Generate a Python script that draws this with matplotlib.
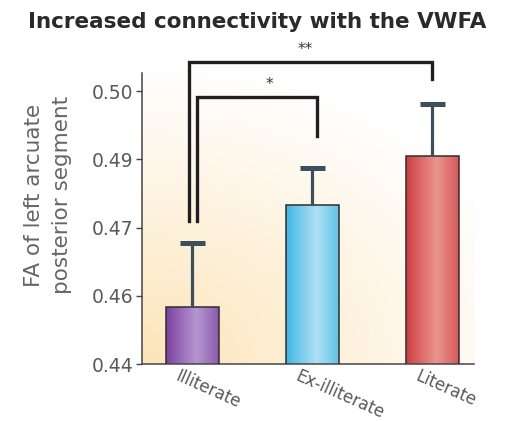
import numpy as np
import matplotlib
matplotlib.use("Agg")
import matplotlib.pyplot as plt
from matplotlib.colors import to_rgb
from matplotlib.transforms import ScaledTranslation

# --- data ---------------------------------------------------------------
groups = ["Illiterate", "Ex-illiterate", "Literate"]
fa_mean = [0.4525, 0.4749, 0.4857]
fa_sem = [0.0142, 0.0083, 0.0114]
ytick_values = [0.44, 0.455, 0.47, 0.485, 0.50]
ytick_labels = ["0.44", "0.46", "0.47", "0.49", "0.50"]
# bracket: (left group, right group, label)
comparisons = [(0, 1, "*"), (0, 2, "**")]

# --- style ----------------------------------------------------------------
bar_shades = {"Illiterate": ("#7a3d9e", "#b596d0"),
              "Ex-illiterate": ("#3cb6e2", "#aee0f4"),
              "Literate": ("#cf3b3f", "#ea958e")}
err_color = "#3b4f5c"
axis_color = "#454545"
text_gray = "#5a5a5a"

fig = plt.figure(figsize=(5.09, 4.21), dpi=100)
ax = fig.add_axes([141.5 / 509, 1 - 364 / 421, (474 - 141.5) / 509, (364 - 73) / 421])

x = np.arange(len(groups))
ax.set_xlim(-0.425, 2.346)
ax.set_ylim(0.44, 0.504)

# warm background wash fading toward the upper right
ny, nx = 200, 200
gx, gy = np.meshgrid(np.linspace(0, 1, nx), np.linspace(0, 1, ny))
d = np.sqrt((gx / 1.25) ** 2 + (gy / 1.05) ** 2)
w = np.clip(1 - d, 0, 1) ** 1.1
peach = np.array(to_rgb("#fde4b8"))
bg = (1 - w[..., None]) * 1.0 + w[..., None] * peach
ax.imshow(bg, extent=[0, 1, 0, 1], transform=ax.transAxes, origin="lower",
          aspect="auto", zorder=0, interpolation="bilinear")

# bars with a cylindrical shading
bars = ax.bar(x, fa_mean, width=0.44, bottom=0, facecolor="none",
              edgecolor="#2e2e2e", linewidth=1.1, zorder=3)
for bar, name in zip(bars, groups):
    dark, light = (np.array(to_rgb(c)) for c in bar_shades[name])
    t = np.linspace(0, 1, 100)
    prof = np.clip(1 - np.abs(t - 0.58) / 0.58, 0, 1) ** 0.9
    cols = dark[None, :] * (1 - prof[:, None]) + light[None, :] * prof[:, None]
    x0 = bar.get_x()
    x1 = x0 + bar.get_width()
    im = ax.imshow(cols[None, :, :], extent=[x0, x1, 0.44, bar.get_height()],
                   aspect="auto", zorder=2, interpolation="bilinear")
    im.set_clip_path(bar)

# upper error bars only
_, caps, _ = ax.errorbar(x, fa_mean, yerr=[np.zeros(len(x)), fa_sem], fmt="none",
                         ecolor=err_color, elinewidth=2.3, capsize=9,
                         capthick=3.6, zorder=4)
for cap in caps:
    if np.allclose(cap.get_ydata(), fa_mean):
        cap.set_visible(False)

# significance brackets
bracket_levels = {"*": 0.4987, "**": 0.5064}
left_offsets = {"*": 0.035, "**": -0.03}
right_offsets = {"*": 0.04, "**": 0.0}
right_ends = {"*": 0.4901, "**": 0.5026}
star_shift = {"*": 0.10, "**": -0.05}
leg_bottom = 0.4714
for i, j, lab in comparisons:
    yb = bracket_levels[lab]
    xl = x[i] + left_offsets[lab]
    xr = x[j] + right_offsets[lab]
    ax.plot([xl, xl, xr, xr], [leg_bottom, yb, yb, right_ends[lab]],
            color="#202020", lw=2.4, solid_joinstyle="miter", zorder=5,
            clip_on=False)
    ax.text((xl + xr) / 2 + star_shift[lab], yb + 0.0012, lab, ha="center",
            va="bottom", fontsize=11, color="#333333", clip_on=False)

# axes styling
for side in ("top", "right"):
    ax.spines[side].set_visible(False)
for side in ("left", "bottom"):
    ax.spines[side].set_color(axis_color)
    ax.spines[side].set_linewidth(1.1)
ax.set_yticks(ytick_values, ytick_labels)
ax.tick_params(axis="y", length=4, width=1.0, color=axis_color, pad=2,
               labelsize=13.5, labelcolor=text_gray)
ax.set_xticks(x, groups)
ax.tick_params(axis="x", length=0, pad=2, labelsize=12, labelcolor=text_gray)
shift = ScaledTranslation(-0.12, 0, fig.dpi_scale_trans)
for lbl in ax.get_xticklabels():
    lbl.set_rotation(-24)
    lbl.set_ha("left")
    lbl.set_va("top")
    lbl.set_rotation_mode("anchor")
    lbl.set_transform(lbl.get_transform() + shift)

fig.text(48 / 509, 1 - 195 / 421, "FA of left arcuate\nposterior segment",
         rotation=90, ha="center", va="center", multialignment="center",
         fontsize=15.5, color="#666666", linespacing=1.45)

fig.text(257 / 509, 1 - 22 / 421, "Increased connectivity with the VWFA",
         ha="center", va="center", fontsize=15.5, fontweight="bold",
         color="#2a2a2a")

fig.savefig("out.png", dpi=100)
